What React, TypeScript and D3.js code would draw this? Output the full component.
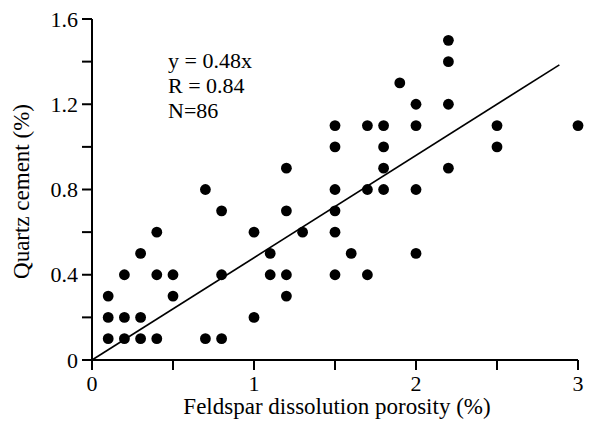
import React from "react";
import * as d3 from "d3";

// Feldspar dissolution porosity (%) vs quartz cement (%) samples
const porosity = [
  0.1, 0.1, 0.1, 0.2, 0.2, 0.2, 0.3, 0.3, 0.3, 0.4, 0.4, 0.4, 0.5, 0.5,
  0.7, 0.7, 0.8, 0.8, 0.8, 1.0, 1.0, 1.1, 1.1,
  1.2, 1.2, 1.2, 1.2, 1.3,
  1.5, 1.5, 1.5, 1.5, 1.5, 1.5, 1.6, 1.7, 1.7, 1.7,
  1.8, 1.8, 1.8, 1.8, 1.9, 2.0, 2.0, 2.0, 2.0,
  2.2, 2.2, 2.2, 2.2, 2.5, 2.5, 3.0,
];
const quartzCement = [
  0.3, 0.2, 0.1, 0.4, 0.2, 0.1, 0.5, 0.2, 0.1, 0.6, 0.4, 0.1, 0.4, 0.3,
  0.8, 0.1, 0.7, 0.4, 0.1, 0.6, 0.2, 0.5, 0.4,
  0.9, 0.7, 0.4, 0.3, 0.6,
  1.1, 1.0, 0.8, 0.7, 0.6, 0.4, 0.5, 1.1, 0.8, 0.4,
  1.1, 1.0, 0.9, 0.8, 1.3, 1.2, 1.1, 0.8, 0.5,
  1.5, 1.4, 1.2, 0.9, 1.1, 1.0, 1.1,
];

const xLabeledTicks = [0, 1, 2, 3];
const xMinorTicks = [0.5, 1.5, 2.5];
const yLabeledTicks = [0, 0.4, 0.8, 1.2, 1.6];
const yMinorTicks = [0.2, 0.6, 1.0, 1.4];

const fitSlope = 0.48;
const fitXRange = [0, 2.885];
const statsLines = ["y = 0.48x", "R = 0.84", "N=86"];

const W = 589;
const H = 421;
const FONT = "'Liberation Serif', 'Times New Roman', serif";

export default function App() {
  const x = d3.scaleLinear().domain([0, 3]).range([92, 578]);
  const y = d3.scaleLinear().domain([0, 1.6]).range([360, 19]);
  const x0 = x(0);
  const y0 = y(0);
  const tick = 10;

  const fitLine = d3
    .line<number>()
    .x((d) => x(d))
    .y((d) => y(fitSlope * d));

  return (
    <svg
      width={W}
      height={H}
      style={{ position: "absolute", left: 0, top: 0, background: "#fff" }}
    >
      <rect width={W} height={H} fill="#fff" />
      {/* axes */}
      <line x1={x0} y1={y(1.6)} x2={x0} y2={y0} stroke="#000" strokeWidth={2} />
      <line x1={x0} y1={y0} x2={x(3)} y2={y0} stroke="#000" strokeWidth={2} />
      {xLabeledTicks.concat(xMinorTicks).map((t) => (
        <line key={"xt" + t} x1={x(t)} x2={x(t)} y1={y0} y2={y0 + tick} stroke="#000" strokeWidth={2} />
      ))}
      {yLabeledTicks.concat(yMinorTicks).map((t) => (
        <line key={"yt" + t} x1={x0 - tick} x2={x0} y1={y(t)} y2={y(t)} stroke="#000" strokeWidth={2} />
      ))}
      {xLabeledTicks.map((t) => (
        <text key={"xl" + t} x={x(t)} y={y0 + 31} textAnchor="middle" fontFamily={FONT} fontSize={22} fill="#000">
          {t}
        </text>
      ))}
      {yLabeledTicks.map((t) => (
        <text key={"yl" + t} x={x0 - 14} y={y(t) + 7.5} textAnchor="end" fontFamily={FONT} fontSize={22} fill="#000">
          {t === 0 ? "0" : t.toFixed(1)}
        </text>
      ))}
      {/* axis titles */}
      <text x={337} y={414} textAnchor="middle" fontFamily={FONT} fontSize={23} fill="#000">
        Feldspar dissolution porosity (%)
      </text>
      <text
        transform={`translate(29,191.5) rotate(-90)`}
        textAnchor="middle"
        fontFamily={FONT}
        fontSize={23}
        fill="#000"
      >
        Quartz cement (%)
      </text>
      {/* regression line */}
      <path d={fitLine(fitXRange) || ""} fill="none" stroke="#000" strokeWidth={1.6} />
      {/* samples */}
      {porosity.map((p, i) => (
        <circle key={i} cx={x(p)} cy={y(quartzCement[i])} r={5.4} fill="#000" />
      ))}
      {/* statistics */}
      {statsLines.map((s, i) => (
        <text key={s} x={168} y={68 + i * 25} fontFamily={FONT} fontSize={22} fill="#000">
          {s}
        </text>
      ))}
    </svg>
  );
}
